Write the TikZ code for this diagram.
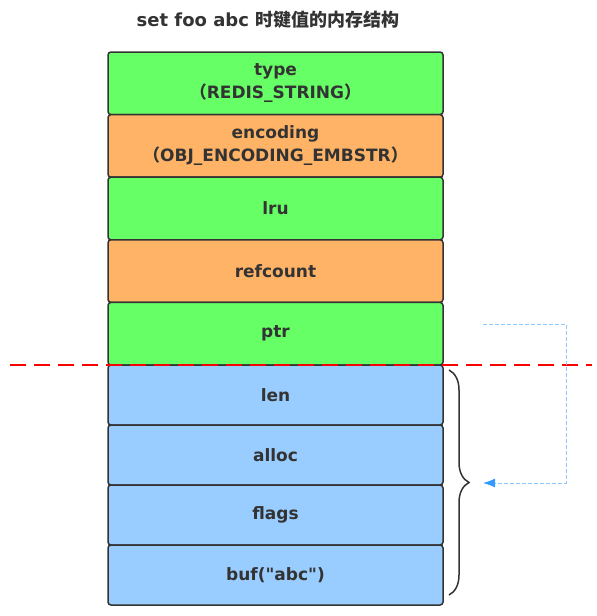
\documentclass[tikz,border=0pt]{standalone}
\usepackage{fontspec}
\setmainfont{DejaVu Sans}[Ligatures=TeXOff]
\newfontfamily\cjk{Noto Sans CJK SC}
\usetikzlibrary{positioning,decorations.pathreplacing,arrows.meta}

\definecolor{fieldgreen}{HTML}{66FF66}
\definecolor{fieldorange}{HTML}{FFB366}
\definecolor{fieldblue}{HTML}{99CCFF}
\definecolor{inkgray}{HTML}{333333}
\definecolor{ptrblue}{HTML}{3399FF}

\tikzset{
  x=1pt, y=-1pt,
  node distance=0pt, % fields are stacked with no gap
  field/.style={draw=inkgray, line width=1.5pt, rounded corners=3pt,
    minimum width=335pt, inner sep=0pt, outer sep=0pt, align=center, text=inkgray,
    font=\fontsize{17}{23}\selectfont\bfseries},
  objfield/.style={field, minimum height=62.6pt},
  sdsfield/.style={field, minimum height=60pt, fill=fieldblue},
}

\begin{document}
\begin{tikzpicture}
    \useasboundingbox (0,0) rectangle (597,616);
    \node[text=inkgray, font=\fontsize{18}{21}\selectfont\bfseries] (title) at (268,20)
        {set foo abc {\cjk 时键值的内存结构}};
    % redisObject
    \node[objfield, fill=fieldgreen, anchor=north west] (type) at (108,52)
        {type\\{\cjk （}REDIS\_STRING{\cjk ）}};
    \node[objfield, fill=fieldorange, below=of type] (encoding)
        {encoding\\{\cjk （}OBJ\_ENCODING\_EMBSTR{\cjk ）}};
    \node[objfield, fill=fieldgreen, below=of encoding] (lru) {lru};
    \node[objfield, fill=fieldorange, below=of lru] (refcount) {refcount};
    \node[objfield, fill=fieldgreen, below=of refcount] (ptr) {ptr};
    % sdshdr8
    \node[sdsfield, below=of ptr] (len) {len};
    \node[sdsfield, below=of len] (alloc) {alloc};
    \node[sdsfield, below=of alloc] (flags) {flags};
    \node[sdsfield, below=of flags] (buf) {buf("abc")};
    % boundary
    \draw[red, line width=2.2pt, dash pattern=on 16pt off 8pt]
        (10,365) -- (592,365);
    % brace over the sds part
    \coordinate (bracetop) at (449,370);
    \coordinate (bracebot) at (449,595);
    \draw[inkgray, line width=1.5pt, decoration={brace, amplitude=20pt}, decorate]
        (bracetop) -- (bracebot);
    % ptr points at the sds
    \coordinate (ptrout) at (483,324);
    \coordinate (ptrturn) at (566,324);
    \coordinate (sdsin) at (483,483);
    \draw[ptrblue!55, line width=1pt, dash pattern=on 4pt off 2pt,
          -{Latex[length=12pt,width=9pt,color=ptrblue]}]
        (ptrout) -- (ptrturn) |- (sdsin);
\end{tikzpicture}
\end{document}
